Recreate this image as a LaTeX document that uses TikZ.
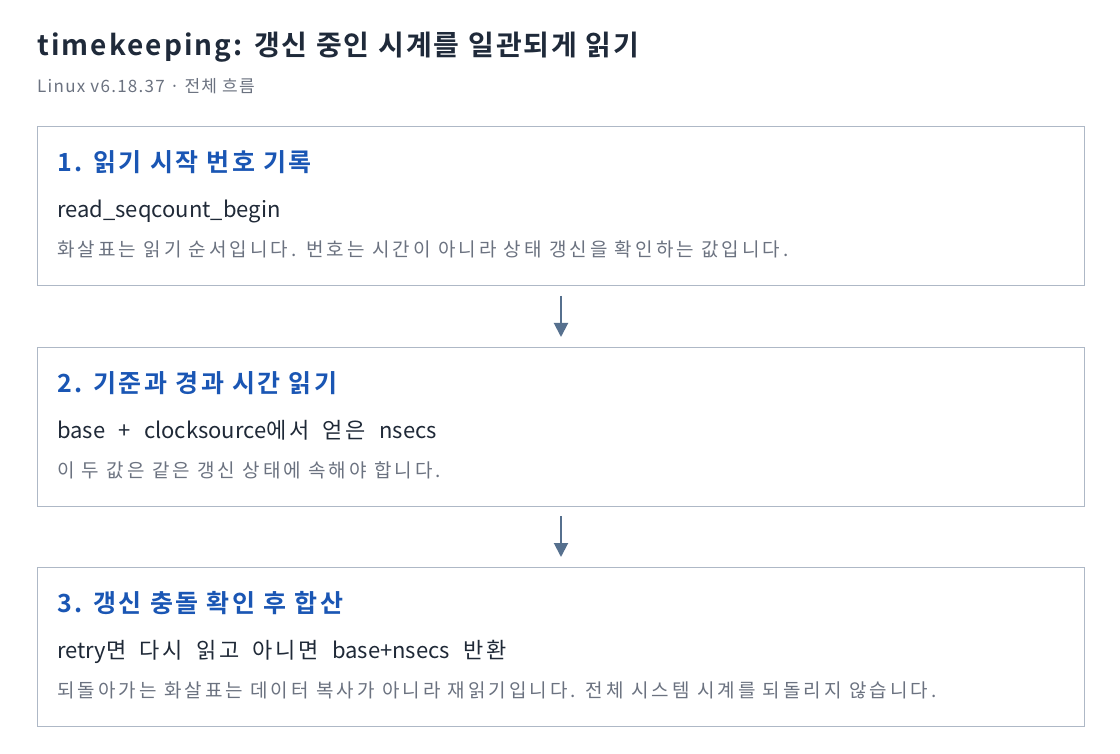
\documentclass[tikz,border=0pt]{standalone}
\usepackage{fontspec}
\setmainfont{Noto Sans CJK KR}
\usetikzlibrary{arrows.meta}
\definecolor{titlecol}{HTML}{1F2A3A}
\definecolor{subcol}{HTML}{6B7280}
\definecolor{headcol}{HTML}{1A56B4}
\definecolor{maincol}{HTML}{1F2937}
\definecolor{notecol}{HTML}{6B7280}
\definecolor{boxcol}{HTML}{AEB8C6}
\definecolor{arrcol}{HTML}{56708E}
\newfontfamily\titlefnt[LetterSpace=7.5]{Noto Sans CJK KR Bold}
\newfontfamily\subfnt[LetterSpace=7.5]{Noto Sans CJK KR}
\newfontfamily\headfnt[LetterSpace=10]{Noto Sans CJK KR Bold}
\newfontfamily\mainfnt[WordSpace=2.7]{Noto Sans CJK KR}
\newfontfamily\mainkrfnt[LetterSpace=12]{Noto Sans CJK KR}
\newcommand\kr[1]{{\mainkrfnt #1}}
\newfontfamily\notefnt[LetterSpace=16]{Noto Sans CJK KR}
\tikzset{
  panel/.style={draw=boxcol, line width=1pt, fill=white},
  titletext/.style={anchor=base west, inner sep=0pt, font={\fontsize{28}{32}\titlefnt}, text=titlecol},
  subtext/.style={anchor=base west, inner sep=0pt, font={\fontsize{17}{20}\subfnt}, text=subcol},
  headtext/.style={anchor=base west, inner sep=0pt, font={\fontsize{25}{29}\headfnt}, text=headcol},
  maintext/.style={anchor=base west, inner sep=0pt, font={\fontsize{22}{26}\mainfnt}, text=maincol},
  notetext/.style={anchor=base west, inner sep=0pt, font={\fontsize{19}{22}\notefnt}, text=notecol},
  flow/.style={draw=arrcol, line width=2pt, -{Triangle[length=14pt,width=14pt]}},
}
\begin{document}
\begin{tikzpicture}[x=1pt,y=-1pt]
\useasboundingbox[fill=white] (0,0) rectangle (1120,754);
\node[titletext] (title) at (37,56) {timekeeping: 갱신 중인 시계를 일관되게 읽기};
\node[subtext] (sub) at (37,93) {Linux v6.18.37 · 전체 흐름};

\path[panel] (37,127) rectangle (1084,286);
\coordinate (b1bot) at (561,296);
\node[headtext] (h1) at (57,172) {1. 읽기 시작 번호 기록};
\node[maintext] (m1) at (57,218) {read\_seqcount\_begin};
\node[notetext] (n1) at (57,257) {화살표는 읽기 순서입니다. 번호는 시간이 아니라 상태 갱신을 확인하는 값입니다.};

\path[panel] (37,347) rectangle (1084,506);
\coordinate (b2top) at (561,337);
\coordinate (b2bot) at (561,516);
\node[headtext] (h2) at (57,392) {2. 기준과 경과 시간 읽기};
\node[maintext] (m2) at (57,438) {base + clocksource\kr{에서} \kr{얻은} nsecs};
\node[notetext] (n2) at (57,477) {이 두 값은 같은 갱신 상태에 속해야 합니다.};

\path[panel] (37,567) rectangle (1084,726);
\coordinate (b3top) at (561,557);
\node[headtext] (h3) at (57,612) {3. 갱신 충돌 확인 후 합산};
\node[maintext] (m3) at (57,658) {retry\kr{면} \kr{다시} \kr{읽고} \kr{아니면} base+nsecs \kr{반환}};
\node[notetext] (n3) at (57,697) {되돌아가는 화살표는 데이터 복사가 아니라 재읽기입니다. 전체 시스템 시계를 되돌리지 않습니다.};

\draw[flow] (b1bot) -- (b2top);
\draw[flow] (b2bot) -- (b3top);
\end{tikzpicture}
\end{document}
